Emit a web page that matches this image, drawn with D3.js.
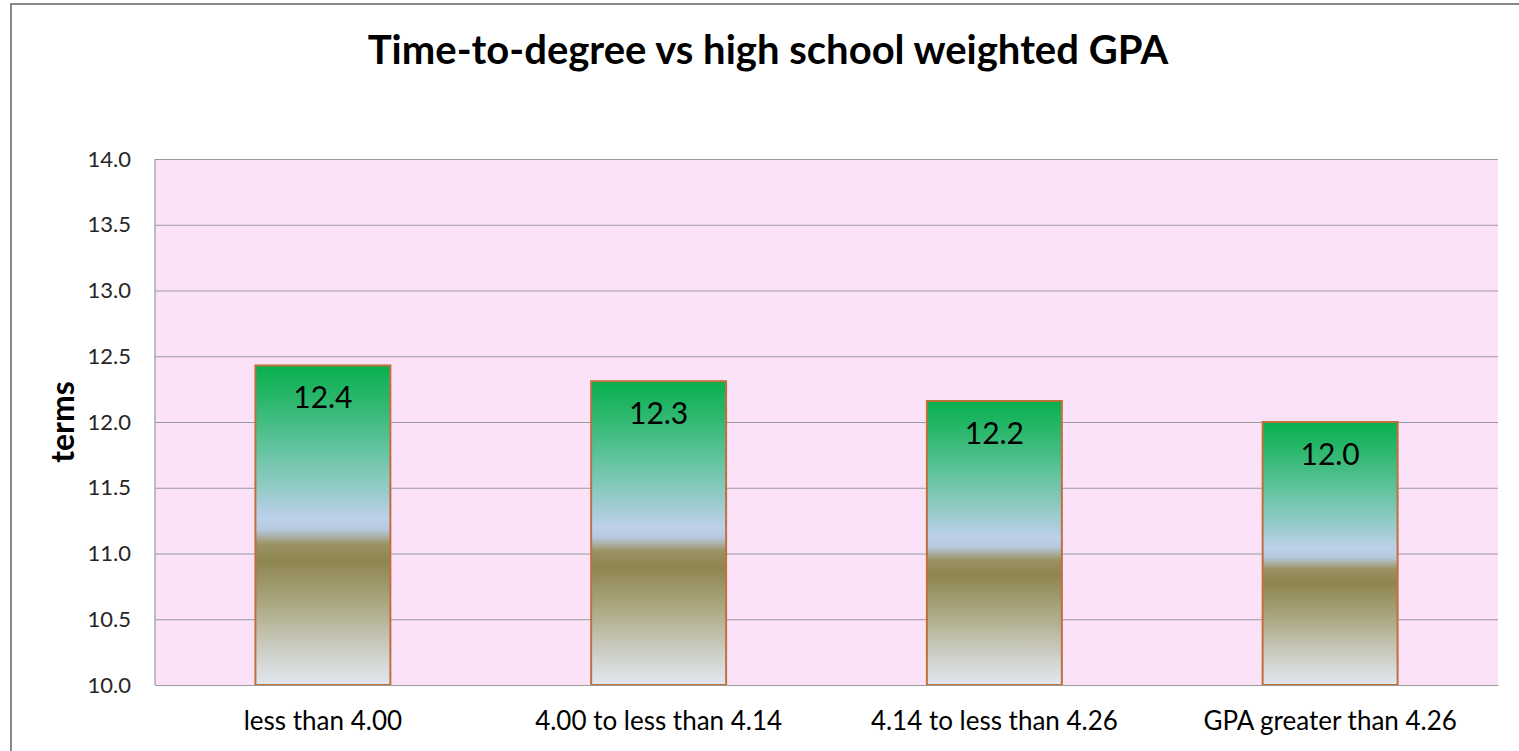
<!DOCTYPE html>
<html>
<head>
<meta charset="utf-8">
<script src="https://cdn.jsdelivr.net/npm/d3@7/dist/d3.min.js"></script>
<style>
  html, body { margin: 0; padding: 0; background: #fff; }
  svg { display: block; }
  text { font-family: Lato, "Open Sans", sans-serif; }
</style>
</head>
<body>
<svg id="chart" width="1519" height="751"></svg>
<script>
// GPA bands and mean time-to-degree (terms)
const categories = ["less than 4.00", "4.00 to less than 4.14", "4.14 to less than 4.26", "GPA greater than 4.26"];
const terms = [12.43, 12.31, 12.16, 12.0];
const yTicks = [10.0, 10.5, 11.0, 11.5, 12.0, 12.5, 13.0, 13.5, 14.0];

const W = 1519, H = 751;
const plot = { left: 155, right: 1498, top: 159, bottom: 685 };

const svg = d3.select("#chart");

// outer chart frame
svg.append("rect")
  .attr("x", 11).attr("y", 4)
  .attr("width", W).attr("height", H)
  .attr("fill", "#fff").attr("stroke", "#878787").attr("stroke-width", 2);

const x = d3.scaleBand().domain(categories)
  .range([plot.left, plot.right]).paddingInner(0.598).paddingOuter(0.299);
const y = d3.scaleLinear().domain([10, 14]).range([plot.bottom, plot.top]);

// bar fill: green over sky blue, olive band fading to pale grey
const defs = svg.append("defs");
const grad = defs.append("linearGradient")
  .attr("id", "barFill").attr("x1", 0).attr("y1", 0).attr("x2", 0).attr("y2", 1);
[
  [0.00, "#08b04f"],
  [0.12, "#2fb870"],
  [0.25, "#5ec39c"],
  [0.38, "#92cbc6"],
  [0.48, "#bdd0ea"],
  [0.515, "#b6c8dc"],
  [0.56, "#9a9262"],
  [0.61, "#8e854f"],
  [0.74, "#aaa67f"],
  [0.87, "#c8c9bc"],
  [1.00, "#e1e7f0"]
].forEach(([o, c]) => grad.append("stop").attr("offset", o).attr("stop-color", c));

// plot area
svg.append("rect")
  .attr("x", plot.left).attr("y", plot.top)
  .attr("width", plot.right - plot.left).attr("height", plot.bottom - plot.top)
  .attr("fill", "#fbe2f9");

// horizontal gridlines
svg.append("g")
  .attr("transform", `translate(${plot.left},0)`)
  .call(d3.axisLeft(y).tickValues(yTicks).tickSize(-(plot.right - plot.left)).tickFormat(""))
  .call(g => g.select(".domain").remove())
  .call(g => g.selectAll("line").attr("stroke", "#9a9a9a").attr("stroke-width", 1.2));

// left axis line
svg.append("line")
  .attr("x1", plot.left).attr("x2", plot.left)
  .attr("y1", plot.top).attr("y2", plot.bottom)
  .attr("stroke", "#9a9a9a").attr("stroke-width", 1.2);

// y tick labels
svg.append("g")
  .attr("transform", `translate(${plot.left},0)`)
  .call(d3.axisLeft(y).tickValues(yTicks).tickSize(0).tickPadding(24).tickFormat(d3.format(".1f")))
  .call(g => g.select(".domain").remove())
  .call(g => g.selectAll("text")
    .attr("font-family", "Lato, sans-serif").attr("font-size", 22).attr("fill", "#262626"));

// bars
svg.append("g").selectAll("rect")
  .data(terms)
  .join("rect")
  .attr("x", (d, i) => x(categories[i]))
  .attr("y", d => y(d))
  .attr("width", x.bandwidth())
  .attr("height", d => y(10) - y(d))
  .attr("fill", "url(#barFill)")
  .attr("stroke", "#c0703a").attr("stroke-width", 2);

// value labels
svg.append("g").selectAll("text")
  .data(terms)
  .join("text")
  .attr("x", (d, i) => x(categories[i]) + x.bandwidth() / 2)
  .attr("y", d => y(d) + 43)
  .attr("text-anchor", "middle")
  .attr("font-size", 30).attr("fill", "#000")
  .text(d => d3.format(".1f")(d));

// x axis labels
svg.append("g")
  .attr("transform", `translate(0,${plot.bottom})`)
  .call(d3.axisBottom(x).tickSize(0).tickPadding(27))
  .call(g => g.select(".domain").attr("stroke", "#9a9a9a").attr("stroke-width", 1.2))
  .call(g => g.selectAll("text")
    .attr("font-family", "Lato, sans-serif").attr("font-size", 26).attr("fill", "#000"));

// y axis title
svg.append("text")
  .attr("transform", `translate(74,${(plot.top + plot.bottom) / 2}) rotate(-90)`)
  .attr("text-anchor", "middle")
  .attr("font-size", 32).attr("font-weight", "bold").attr("fill", "#000")
  .text("terms");

// chart title
svg.append("text")
  .attr("x", 768).attr("y", 64)
  .attr("text-anchor", "middle")
  .attr("font-size", 40).attr("font-weight", "bold").attr("fill", "#000")
  .text("Time-to-degree vs high school weighted GPA");
</script>
</body>
</html>
